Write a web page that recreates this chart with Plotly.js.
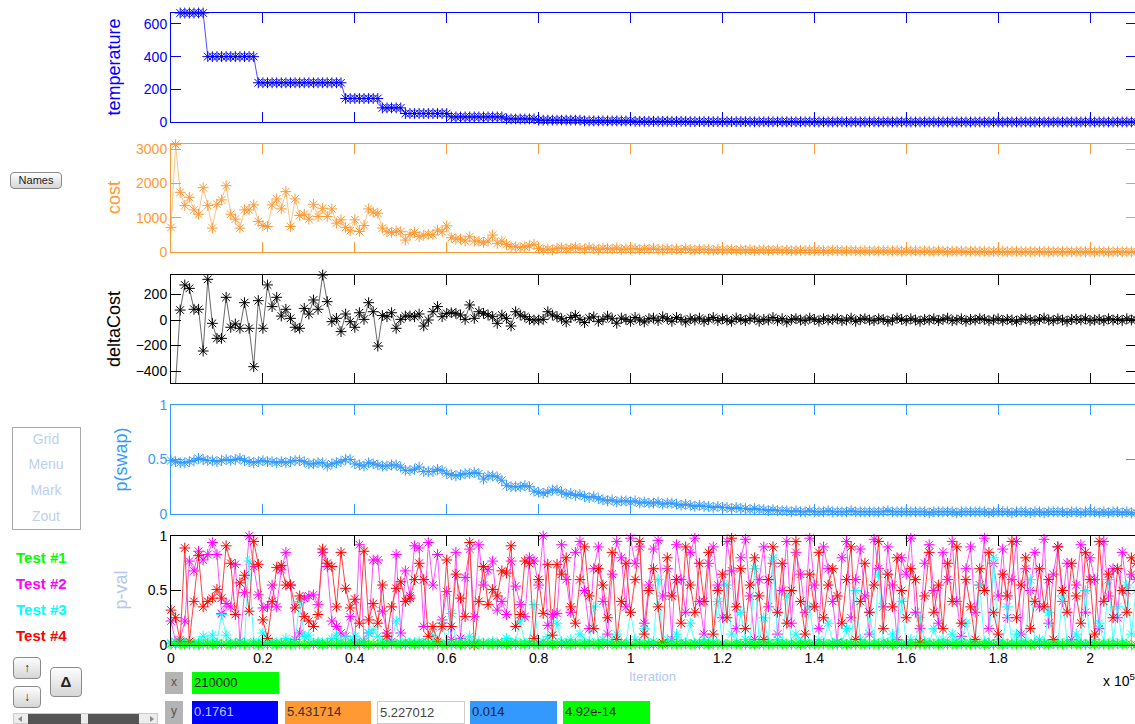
<!DOCTYPE html>
<html><head><meta charset="utf-8">
<script src="https://cdn.plot.ly/plotly-3.0.1.min.js"></script>
<style>
html,body{margin:0;padding:0;background:#fff;overflow:hidden;width:1135px;height:724px;font-family:"Liberation Sans",Arial,sans-serif;}
#plot{position:absolute;left:0;top:0;}
.w{position:absolute;box-sizing:border-box;}
.btn{border:1px solid #8a8a8a;border-radius:4px;background:linear-gradient(#fdfdfd,#d6d6d6);font-size:11px;text-align:center;color:#222;}
.lab{font-size:15px;font-weight:bold;}
.menu{color:#bdd0f3;font-size:14px;text-align:center;width:68px;}
.vb{font-size:13px;line-height:22px;padding-left:2px;}
.gl{background:#b4b4b4;color:#555;font-size:12px;text-align:center;line-height:20px;}
.tri{position:absolute;width:0;height:0;border-top:3px solid transparent;border-bottom:3px solid transparent;}
</style></head>
<body>
<div id="plot"></div>
<div class="w btn" style="left:10px;top:172px;width:52px;height:17px;line-height:15px;">Names</div>
<div class="w" style="left:12px;top:427px;width:69px;height:103px;border:1px solid #a8a8a8;"></div>
<div class="w menu" style="left:12px;top:431px;">Grid</div>
<div class="w menu" style="left:12px;top:456px;">Menu</div>
<div class="w menu" style="left:12px;top:482px;">Mark</div>
<div class="w menu" style="left:12px;top:508px;">Zout</div>
<div class="w lab" style="left:16px;top:549px;color:#00ff00;">Test #1</div>
<div class="w lab" style="left:16px;top:575px;color:#ff00ff;">Test #2</div>
<div class="w lab" style="left:16px;top:601px;color:#00ffff;">Test #3</div>
<div class="w lab" style="left:16px;top:627px;color:#ff0000;">Test #4</div>
<div class="w btn" style="left:13px;top:657px;width:28px;height:22px;line-height:20px;font-size:12px;font-weight:bold;">&#8593;</div>
<div class="w btn" style="left:13px;top:686px;width:28px;height:22px;line-height:20px;font-size:12px;font-weight:bold;">&#8595;</div>
<div class="w btn" style="left:50px;top:667px;width:32px;height:30px;line-height:28px;font-size:15px;font-weight:bold;">&#916;</div>
<div class="w" style="left:13px;top:713px;width:145px;height:11px;background:#ececec;border:1px solid #ccc;"></div>
<div class="w" style="left:28px;top:714px;width:53px;height:10px;background:#555;"></div>
<div class="w" style="left:88px;top:714px;width:51px;height:10px;background:#555;"></div>
<div class="tri" style="left:18px;top:716px;border-right:4px solid #888;"></div>
<div class="tri" style="left:150px;top:716px;border-left:4px solid #888;"></div>
<div class="w gl" style="left:165px;top:672px;width:18px;height:22px;">x</div>
<div class="w vb" style="left:192px;top:672px;width:87px;height:22px;background:#00ff00;color:#222;">210000</div>
<div class="w gl" style="left:165px;top:701px;width:18px;height:23px;">y</div>
<div class="w vb" style="left:192px;top:701px;width:86px;height:23px;background:#0000ff;color:#b8c8ff;">0.1761</div>
<div class="w vb" style="left:285px;top:701px;width:86px;height:23px;background:#ff9933;color:#333;">5.431714</div>
<div class="w vb" style="left:377px;top:701px;width:88px;height:23px;background:#fff;border:1px solid #ccc;color:#444;">5.227012</div>
<div class="w vb" style="left:470px;top:701px;width:87px;height:23px;background:#3399ff;color:#223;">0.014</div>
<div class="w vb" style="left:563px;top:701px;width:87px;height:23px;background:#00ff00;color:#222;">4.92e-14</div>
<script>
// ---------------- data ----------------
const iterStep = 1000;   // iterations between samples (x label 210000 at the last sample)
const xTickVals = [0,20000,40000,60000,80000,100000,120000,140000,160000,180000,200000];
const xTickText = ['0','0.2','0.4','0.6','0.8','1','1.2','1.4','1.6','1.8','2'];

const temperature = [null,null,
 667,667,667,667,667,667,
 400,400,400,400,400,400,400,400,400,400,400,
 240,240,240,240,240,240,240,240,240,240,240,240,240,240,240,240,240,240,240,
 144,144,144,144,144,144,144,144,
 86.4,86.4,86.4,86.4,86.4,
 51.8,51.8,51.8,51.8,51.8,51.8,51.8,51.8,51.8,51.8,
 31.1,31.1,31.1,31.1,31.1,31.1,31.1,31.1,31.1,31.1,31.1,31.1,
 18.7,18.7,18.7,18.7,18.7,18.7,18.7,
 11.2,11.2,11.2,11.2,11.2,11.2,11.2,11.2,11.2,11.2,
 6.7,6.7,6.7,6.7,6.7,6.7,6.7,6.7,6.7,6.7,6.7,
 4.0,4.0,4.0,4.0,4.0,4.0,4.0,4.0,4.0,4.0,4.0,4.0,
 2.4,2.4,2.4,2.4,2.4,2.4,2.4,2.4,2.4,2.4,2.4,2.4,2.4,
 1.45,1.45,1.45,1.45,1.45,1.45,1.45,1.45,1.45,1.45,1.45,1.45,1.45,1.45,1.45,
 0.87,0.87,0.87,0.87,0.87,0.87,0.87,0.87,0.87,0.87,0.87,0.87,0.87,0.87,0.87,0.87,
 0.52,0.52,0.52,0.52,0.52,0.52,0.52,0.52,0.52,0.52,0.52,0.52,0.52,0.52,0.52,0.52,
 0.31,0.31,0.31,0.31,0.31,0.31,0.31,0.31,0.31,0.31,0.31,0.31,0.31,0.31,0.31,0.31,0.31,0.31,
 0.1761,0.1761,0.1761,0.1761,0.1761,0.1761,0.1761,0.1761,0.1761,0.1761,
 0.1761,0.1761,0.1761,0.1761,0.1761,0.1761,0.1761,0.1761,0.1761,0.1761];

const cost = [716,3130,1739,1353,1594,1227,1101,1874,1353,696,
 1391,1517,1932,1101,957,696,1227,1227,1372,889,
 773,744,1372,1546,1256,1758,744,1546,1063,1101,
 957,1391,1034,1275,1034,1256,841,937,716,618,
 937,599,773,1256,1159,1130,696,589,570,609,
 589,348,512,570,445,493,512,502,638,589,
 763,416,377,377,319,445,319,319,280,319,
 493,251,319,222,155,155,126,155,184,222,
 106,58,87,58,106,120,95,110,140,100,
 85,130,90,75,110,95,80,120,70,90,
 85,100,70,95,80,110,75,65,90,70,
 85,60,95,70,55,80,65,75,50,70,
 60,55,75,45,65,50,70,40,55,60,
 45,50,65,40,55,35,50,45,40,55,
 35,45,40,30,50,35,40,30,45,35,
 25,40,30,35,25,40,30,25,35,20,
 30,25,35,20,30,25,20,30,25,15,
 25,20,30,15,20,25,15,20,10,20,
 15,20,10,15,20,12,15,10,18,12,
 10,15,8,12,10,14,8,10,12,7,
 10,8,12,6,9,7,10,6,8,7,5.431714];

const deltaCost = [null,-497,78,275,248,84,84,-243,319,-26,
 -144,-144,178,-57,-31,-65,136,-65,-366,152,
 -65,275,105,178,31,84,13,-57,-65,91,
 47,157,84,353,144,-13,13,-91,47,-13,
 -57,57,5,136,65,-204,35,26,57,-65,
 5,31,31,26,47,-47,0,65,105,26,
 52,57,52,39,5,118,13,65,52,39,
 26,-26,39,13,-47,65,39,26,5,0,
 0,5,65,39,26,10,-15,20,35,5,
 -20,15,25,-10,5,30,10,-25,15,5,
 -10,20,0,-15,10,15,-5,25,10,-10,
 20,5,-15,10,0,15,-10,5,20,-5,
 10,0,-10,15,5,-5,10,15,-10,5,
 0,20,-5,10,-15,5,10,0,-5,15,
 5,-10,10,0,5,10,-5,0,15,-10,
 5,10,0,-5,10,5,-10,0,15,5,
 -5,10,0,-10,5,0,10,-5,5,15,
 -5,0,10,-10,5,0,10,5,-5,0,
 10,-5,5,0,-10,5,10,0,-5,5,
 15,0,-5,10,0,-10,5,5,0,10,
 -5,0,5,-5,10,0,5,-5,10,0,5.227012];

const pSwap = [.49,.48,.47,.47,.48,.49,.51,.5,.49,.49,
 .48,.49,.5,.49,.5,.51,.49,.48,.47,.48,
 .49,.48,.48,.47,.48,.47,.48,.49,.49,.48,
 .46,.46,.47,.47,.44,.46,.47,.48,.5,.5,
 .46,.45,.44,.47,.46,.45,.44,.44,.45,.45,
 .43,.4,.4,.41,.43,.39,.39,.39,.41,.4,
 .37,.36,.35,.36,.37,.37,.38,.37,.32,.35,
 .35,.34,.31,.26,.25,.25,.25,.26,.25,.21,
 .2,.19,.2,.22,.22,.2,.18,.19,.17,.18,
 .16,.15,.16,.14,.13,.12,.13,.11,.12,.12,
 .11,.12,.1,.11,.1,.1,.11,.09,.1,.1,
 .09,.08,.09,.08,.07,.08,.07,.07,.06,.07,
 .06,.06,.05,.06,.05,.05,.04,.05,.04,.04,
 .03,.04,.03,.03,.03,.02,.03,.02,.02,.03,
 .02,.02,.02,.03,.02,.02,.02,.02,.03,.02,
 .02,.02,.02,.02,.02,.02,.03,.02,.02,.02,
 .02,.02,.02,.02,.02,.01,.02,.02,.02,.02,
 .02,.01,.02,.02,.02,.02,.02,.02,.01,.02,
 .02,.02,.02,.01,.02,.02,.02,.01,.02,.02,
 .01,.02,.02,.02,.02,.01,.02,.02,.01,.02,
 .02,.02,.01,.02,.01,.02,.02,.01,.02,.01,.014];

const test1 = [.01,.005,.01,.005,.01,.005,.01,.005,.01,.005,
 .01,.005,.01,.005,.01,.005,.01,.005,.01,.005,
 .01,.005,.01,.005,.01,.005,.01,.005,.01,.005,
 .01,.005,.01,.005,.01,.005,.01,.005,.01,.005,
 .01,.005,.01,.005,.01,.005,.01,.005,.01,.005,
 .01,.005,.01,.005,.01,.005,.01,.005,.01,.005,
 .01,.005,.01,.005,.01,.005,.01,.005,.01,.005,
 .01,.005,.01,.005,.01,.005,.01,.005,.01,.005,
 .01,.005,.01,.005,.01,.005,.01,.005,.01,.005,
 .01,.005,.01,.005,.01,.005,.01,.005,.01,.005,
 .01,.005,.01,.005,.01,.005,.01,.005,.01,.005,
 .01,.005,.01,.005,.01,.005,.01,.005,.01,.005,
 .01,.005,.01,.005,.01,.005,.01,.005,.01,.005,
 .01,.005,.01,.005,.01,.005,.01,.005,.01,.005,
 .01,.005,.01,.005,.01,.005,.01,.005,.01,.005,
 .01,.005,.01,.005,.01,.005,.01,.005,.01,.005,
 .01,.005,.01,.005,.01,.005,.01,.005,.01,.005,
 .01,.005,.01,.005,.01,.005,.01,.005,.01,.005,
 .01,.005,.01,.005,.01,.005,.01,.005,.01,.005,
 .01,.005,.01,.005,.01,.005,.01,.005,.01,.005,
 .01,.005,.01,.005,.01,.005,.01,.005,.01,.005,0];

const test2 = [.22,.03,.05,.22,.77,.68,.86,.78,.83,.94,
 .83,.29,.38,.35,.74,.03,.48,1.0,.72,.46,
 .34,.35,.55,.35,.69,.85,.55,.05,.11,.43,
 .45,.46,.37,.85,.72,.22,.17,.11,.08,.26,
 .02,.92,.03,.11,.78,.78,.31,.11,.03,.83,
 .11,.68,.45,.91,.89,.17,.94,.55,.83,.23,
 .49,.05,.85,.06,.62,.88,.26,.92,.55,.69,
 .77,.32,.4,.28,.77,.54,.37,.26,.8,.77,
 .55,1.0,.18,.28,.29,
 .92,.6,.3,.85,.95,.5,.15,.7,.9,.4,
 .1,.65,.95,.8,.35,.98,.75,.9,.2,.55,
 .88,.96,.45,.7,.05,.92,.6,.3,.85,.98,
 .4,.1,.75,.9,.55,.25,.95,.68,.15,.8,
 .97,.45,.05,.6,.9,.35,.75,.1,.5,.95,
 .2,.85,.65,.3,.98,.55,.15,.9,.7,.4,
 .02,.8,.95,.25,.6,.88,.45,.1,.97,.7,
 .35,.9,.55,.05,.8,.65,.98,.3,.15,.75,
 .92,.5,.2,.85,.6,.95,.4,.08,.7,.9,
 .3,.55,.98,.15,.75,.45,.88,.25,.6,.95,
 .1,.7,.5,.85,.35,.97,.2,.65,.9,.4,
 .75,.05,.55,.92,.3,.8,.6,.15,.95,.45,
 .7,.25,.85,.5,.65,.6];

const test3 = [.02,.03,.02,.02,.03,.02,.02,.08,.02,.09,
 .02,.28,.09,.02,.02,.03,.02,.77,.03,.02,
 .11,.02,.03,.02,.02,.06,.02,.03,.4,.08,
 .09,.02,.03,.02,.02,.06,.09,.02,.08,.02,
 .08,.02,.03,.11,.14,.08,.02,.03,.02,.22,
 .02,.03,.02,.02,.03,.02,.02,.09,.02,.2,
 .02,.29,.02,.03,.02,.08,.02,.03,.02,.02,
 .03,.02,.02,.06,.02,.03,.22,.02,.03,.37,
 .02,.03,.08,.02,.2,
 .03,.02,.05,.02,.1,.02,.03,.35,.02,.05,
 .02,.03,.1,.02,.02,.3,.05,.02,.15,.02,
 .03,.6,.02,.05,.02,.1,.03,.02,.2,.02,
 .02,.05,.02,.03,.4,.02,.55,.1,.02,.3,
 .05,.02,.7,.03,.25,.02,.8,.05,.02,.45,
 .02,.1,.02,.03,.35,.02,.05,.02,.2,.02,
 .03,.02,.15,.02,.5,.05,.02,.3,.02,.65,
 .03,.02,.1,.02,.4,.02,.05,.02,.25,.03,
 .02,.15,.02,.05,.02,.1,.02,.03,.2,.02,
 .02,.55,.03,.02,.8,.05,.02,.35,.02,.1,
 .02,.03,.6,.02,.05,.02,.3,.02,.02,.45,
 .03,.02,.1,.02,.5,.02,.05,.2,.02,.6,
 .03,.35,.02,.55,.1,.5];

const test4 = [.32,.25,.03,.89,.03,.4,.82,.35,.4,.43,
 .51,.43,.91,.75,.28,.57,.64,.31,.95,.74,
 .23,.06,.4,.71,.73,.55,.55,.34,.45,.26,
 .22,.17,.28,.88,.75,.72,.35,.85,.52,.34,
 .42,.2,.86,.23,.38,.2,.55,.08,.35,.52,
 .58,.4,.43,.6,.75,.6,.08,.17,.03,.17,
 .78,.17,.65,.43,.26,.94,0,.4,.72,.37,
 .51,.45,.68,.66,.91,.17,.28,.77,.75,.06,
 .6,.29,.74,.09,.74,
 .65,.8,.35,.2,.6,.9,.45,.15,.7,.55,
 .25,.85,.05,.4,.75,.3,.6,.95,.1,.5,
 .7,.35,.02,.8,.45,.6,.2,.9,.55,.3,
 .75,.4,.85,.1,.5,.65,.25,.98,.35,.7,
 .15,.55,.8,.45,.05,.6,.9,.3,.75,.2,
 .5,.95,.4,.1,.65,.35,.85,.25,.55,.7,
 .45,.2,.6,.9,.05,.4,.75,.3,.55,.95,
 .15,.65,.35,.8,.5,.25,.7,.6,.02,.45,
 .85,.3,.55,.15,.75,.4,.9,.2,.6,.35,
 .05,.7,.5,.85,.3,.1,.65,.45,.95,.25,
 .55,.8,.15,.4,.7,.35,.6,.05,.9,.5,
 .3,.75,.45,.2,.85,.6,.1,.95,.4,.65,
 .25,.7,.5,.3,.8,.75];

// ---------------- layout helpers ----------------
const H = 724, W = 1136, ML = 171;
const xIter = cost.map((_, i) => i * iterStep);
const panels = [
  {name:'temperature', top:13,  bot:122, axis:'#0000ff', tick:'#0000ff', title:'#0000ff', range:[0,667],  tv:[0,200,400,600]},
  {name:'cost',        top:144, bot:252, axis:'#ff9933', tick:'#ff9933', title:'#ff9933', range:[0,3146], tv:[0,1000,2000,3000]},
  {name:'deltaCost',   top:275, bot:383, axis:'#000000', tick:'#000000', title:'#000000', range:[-494,353], tv:[-400,-200,0,200]},
  {name:'p(swap)',     top:405, bot:514, axis:'#3399ff', tick:'#3399ff', title:'#3399ff', range:[0,1], tv:[0,0.5,1]},
  {name:'p-val',       top:536, bot:645, axis:'#000000', tick:'#000000', title:'#b3c8ef', range:[0,1], tv:[0,0.5,1]}
];
const font = 'Liberation Sans, Arial, sans-serif';
const layout = {width:W, height:H, margin:{l:ML,r:0,t:0,b:0}, showlegend:false,
  paper_bgcolor:'#fff', plot_bgcolor:'#fff', font:{family:font, size:14}, annotations:[]};
const traces = [];
function serie(y, k, mcol, lcol){
  return {x:xIter, y:y, xaxis:'x'+(k?k+1:''), yaxis:'y'+(k?k+1:''), type:'scatter', mode:'lines+markers',
    line:{color:lcol, width:1}, marker:{symbol:'asterisk-open', size:9, color:mcol, line:{color:mcol, width:1}},
    cliponaxis:false, connectgaps:false};
}
panels.forEach((p, k) => {
  const sx = k ? k+1 : '';
  layout['xaxis'+sx] = {domain:[0,1], range:[0, 210000], anchor:'y'+sx, showgrid:false, zeroline:false,
    showline:true, linecolor:p.axis, linewidth:1, mirror:'ticks', ticks:'inside', ticklen:10, tickcolor:p.axis,
    tickvals:xTickVals, ticktext:xTickText, showticklabels:(k===4), tickfont:{size:14, color:'#000', family:font}};
  layout['yaxis'+sx] = {domain:[1-p.bot/H, 1-p.top/H], range:p.range, anchor:'x'+sx, showgrid:false, zeroline:false,
    showline:true, linecolor:p.axis, linewidth:1, mirror:'ticks', ticks:'inside', ticklen:10, tickcolor:p.axis,
    tickvals:p.tv, tickfont:{size:14, color:p.tick, family:font}};
  layout.annotations.push({text:p.name, xref:'paper', yref:'paper', x:((k<3?114:120)-ML)/(W-ML), y:1-((p.top+p.bot)/2)/H,
    textangle:-90, showarrow:false, xanchor:'center', yanchor:'middle', font:{size:18, color:p.title, family:font}});
});
traces.push(serie(temperature, 0, '#0000ff', '#4d4dff'));
traces.push(serie(cost, 1, '#ff9933', '#ffc485'));
traces.push(serie(deltaCost, 2, '#000000', '#6a6a6a'));
traces.push(serie(pSwap, 3, '#3399ff', '#3399ff'));
traces.push(serie(test2, 4, '#ff00ff', '#ff55ff'));
traces.push(serie(test3, 4, '#00ffff', '#55ffff'));
traces.push(serie(test4, 4, '#ff0000', '#ff4040'));
traces.push(serie(test1, 4, '#00ff00', '#00ff00'));
layout.annotations.push({text:'Iteration', xref:'paper', yref:'paper', x:(652-ML)/(W-ML), y:1-676/H, showarrow:false,
  xanchor:'center', yanchor:'middle', font:{size:13, color:'#b3c8ef', family:font}});
layout.annotations.push({text:'x 10<sup>5</sup>', xref:'paper', yref:'paper', x:(1101-ML)/(W-ML), y:1-680/H, showarrow:false,
  xanchor:'left', yanchor:'middle', font:{size:14, color:'#000', family:font}});
Plotly.newPlot('plot', traces, layout, {displayModeBar:false, staticPlot:true});
</script>
</body></html>
